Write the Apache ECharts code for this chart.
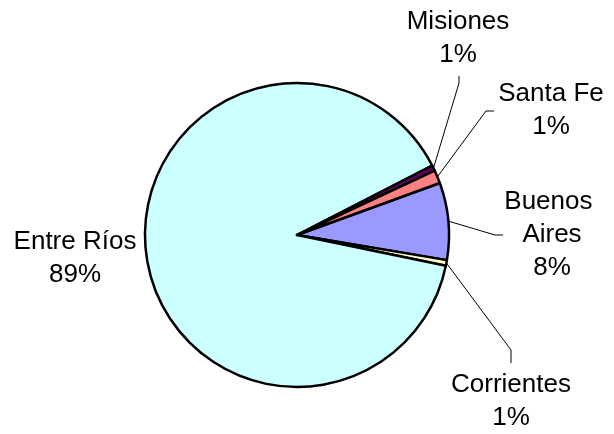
<!DOCTYPE html>
<html>
<head>
<meta charset="utf-8">
<script src="https://cdn.jsdelivr.net/npm/echarts@6/dist/echarts.min.js"></script>
<style>
html,body{margin:0;padding:0;background:#fff;}
#chart{width:614px;height:434px;}
</style>
</head>
<body>
<div id="chart"></div>
<script>
// Data (clockwise from the first slice)
var categories = ['Buenos Aires', 'Corrientes', 'Entre Ríos', 'Misiones', 'Santa Fe'];
var values = [8.2, 0.6, 89.2, 0.6, 1.4];
var colors = ['#9999FF', '#FFFFCC', '#CCFFFF', '#660066', '#FF8080'];

// Label layout (centre of each label block and leader line bend points)
var labelPos = {
  'Buenos Aires': {x: 552, y: 235, line: [[495, 235], [503, 235]]},
  'Corrientes': {x: 511, y: 401, line: [[511, 350], [511, 363]]},
  'Entre Ríos': {x: 75, y: 258, line: null},
  'Misiones': {x: 458, y: 38, line: [[459, 83], [459, 76]]},
  'Santa Fe': {x: 551, y: 110, line: [[486, 111], [494, 111]]}
};

var chart = echarts.init(document.getElementById('chart'), null, {renderer: 'canvas'});

var seriesData = categories.map(function (c, i) {
  var item = {name: c, value: values[i], itemStyle: {color: colors[i]}};
  if (c === 'Buenos Aires') item.label = {width: 100, overflow: 'break'};
  if (!labelPos[c].line) item.labelLine = {show: false};
  return item;
});

chart.setOption({
  animation: false,
  backgroundColor: '#ffffff',
  series: [{
    type: 'pie',
    center: [297, 235],
    radius: 152,
    startAngle: 20,
    clockwise: true,
    avoidLabelOverlap: false,
    itemStyle: {borderColor: '#000000', borderWidth: 2.5},
    emphasis: {disabled: true},
    label: {
      show: true,
      position: 'outside',
      fontFamily: 'Liberation Sans, Arial, sans-serif',
      fontSize: 26,
      lineHeight: 33,
      color: '#000000',
      align: 'center',
      formatter: function (p) {
        return p.name + '\n' + Math.round(p.percent) + '%';
      }
    },
    labelLine: {
      show: true,
      length: 20,
      length2: 10,
      lineStyle: {color: '#000000', width: 1}
    },
    labelLayout: function (params) {
      var pos = labelPos[categories[params.dataIndex]];
      var res = {x: pos.x, y: pos.y, align: 'center', verticalAlign: 'middle'};
      if (pos.line && params.labelLinePoints) {
        res.labelLinePoints = [params.labelLinePoints[0]].concat(pos.line);
      }
      return res;
    },
    data: seriesData
  }]
});
</script>
</body>
</html>
